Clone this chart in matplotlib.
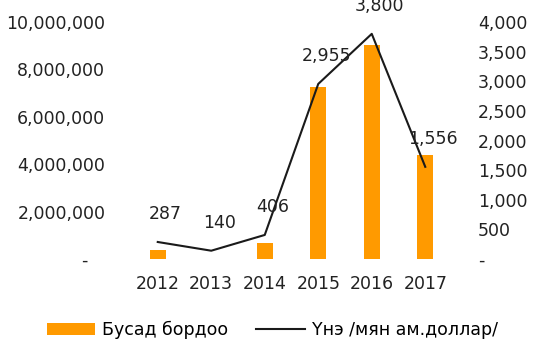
import matplotlib.pyplot as plt
from matplotlib.ticker import FuncFormatter

years = ['2012', '2013', '2014', '2015', '2016', '2017']
other_feed = [380000, 0, 680000, 7260000, 9030000, 4390000]
price = [287, 140, 406, 2955, 3800, 1556]

left_ticks = [0, 2000000, 4000000, 6000000, 8000000, 10000000]
right_ticks = [0, 500, 1000, 1500, 2000, 2500, 3000, 3500, 4000]

plt.rcParams['font.family'] = ['DejaVu Sans']
fs = 12.5

fig = plt.figure(figsize=(5.34, 3.41), dpi=100)
ax = fig.add_axes([131/534, 82/341, 321/534, 237/341])
ax2 = ax.twinx()

x = range(len(years))
bars = ax.bar(x, other_feed, width=0.3, color='#FF9A00', label='Бусад бордоо')
line, = ax2.plot(x, price, color='#1a1a1a', lw=1.5, label='Үнэ /мян ам.доллар/')

# value labels above-right of each price point
for i, v in enumerate(price):
    ax2.annotate(f'{v:,}', (i, v), xytext=(8, 28), textcoords='offset pixels',
                 ha='center', va='center', fontsize=fs, color='#222222',
                 annotation_clip=False)

ax.set_xlim(-0.5, len(years) - 0.5)
ax.set_ylim(0, 10000000)
ax2.set_ylim(0, 4000)
ax.set_xticks(list(x))
ax.set_xticklabels(years, fontsize=fs)
ax.set_yticks(left_ticks)
ax2.set_yticks(right_ticks)
ax.yaxis.set_major_formatter(FuncFormatter(lambda v, p: f'{v:,.0f}' if v else '-   '))
ax2.yaxis.set_major_formatter(FuncFormatter(lambda v, p: f'{v:,.0f}' if v else '-'))

for a in (ax, ax2):
    for s in a.spines.values():
        s.set_visible(False)
    a.tick_params(length=0, labelsize=fs, colors='#222222')
ax.tick_params(axis='y', pad=18.5)
ax2.tick_params(axis='y', pad=18.5)
ax.tick_params(axis='x', pad=11.5)

fig.legend([bars, line], ['Бусад бордоо', 'Үнэ /мян ам.доллар/'],
           loc='center', bbox_to_anchor=(0.51, 1 - 330/341), ncol=2,
           frameon=False, fontsize=fs, handlelength=2.8, handletextpad=0.4,
           columnspacing=1.6)

fig.savefig('out.png', dpi=100)
